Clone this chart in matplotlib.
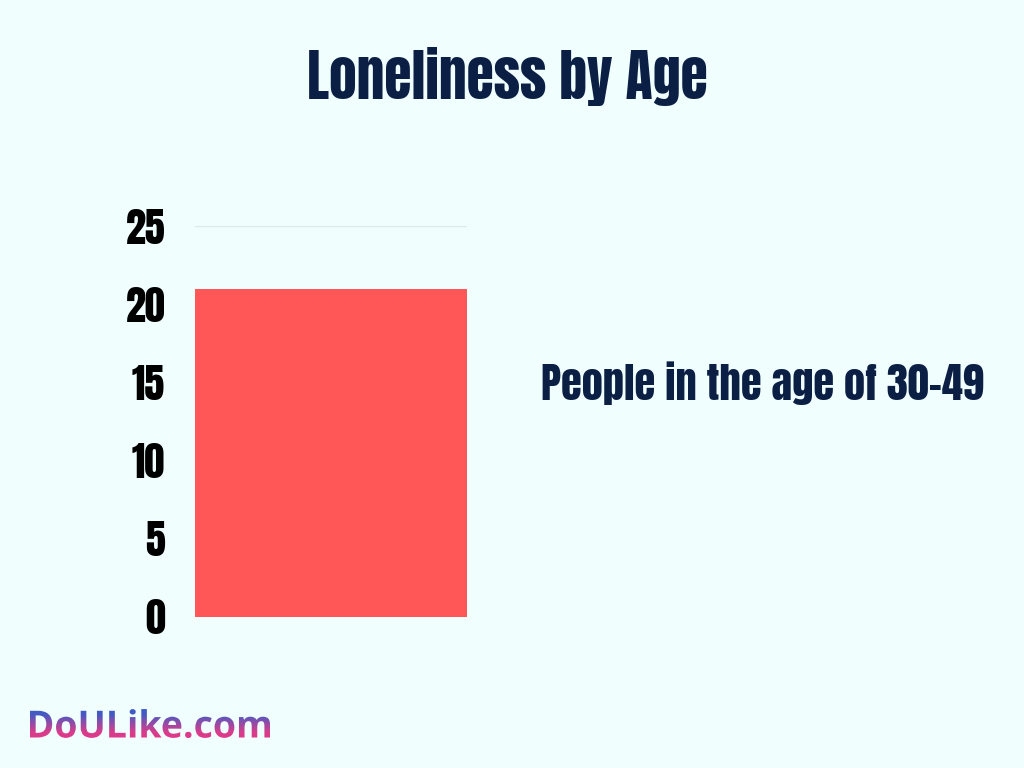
import matplotlib
matplotlib.use('Agg')
import matplotlib.pyplot as plt
import numpy as np
from matplotlib import font_manager
from matplotlib.textpath import TextPath
from matplotlib.font_manager import FontProperties
from matplotlib.patches import PathPatch
from matplotlib.transforms import Affine2D
from matplotlib.colors import LinearSegmentedColormap

categories = ['People in the age of 30-49']
values = [21]
yticks = [0, 5, 10, 15, 20, 25]

installed = set(f.name for f in font_manager.fontManager.ttflist)
cond = [n for n in ['Anton', 'Bebas Neue', 'Oswald', 'Liberation Sans Narrow'] if n in installed] + ['DejaVu Sans']
logo_font = [n for n in ['Open Sans', 'Noto Sans'] if n in installed] + ['DejaVu Sans']

bg = '#f0fefe'
navy = '#0b1f45'

fig = plt.figure(figsize=(10.24, 7.68), dpi=100, facecolor=bg)
ax = fig.add_axes([195 / 1024, 151 / 768, 272 / 1024, 391 / 768], facecolor=bg)

ax.bar([0], values, width=1.0, color='#ff5757', zorder=2)
ax.set_xlim(-0.5, 0.5)
ax.set_ylim(0, 25)
ax.set_yticks(yticks)
ax.set_yticklabels([str(t) for t in yticks], family=cond, fontsize=29, color='black')
ax.tick_params(axis='y', length=0, pad=21.5)
ax.set_xticks([])
ax.grid(axis='y', color='#dde9ea', linewidth=1, zorder=0)
for s in ax.spines.values():
    s.set_visible(False)

fig.text(507 / 1024, 1 - 77 / 768, 'Loneliness by Age', ha='center', va='center',
         family=cond, fontsize=40, color=navy)
fig.text(762 / 1024, 1 - 383 / 768, categories[0], ha='center', va='center',
         family=cond, fontsize=30.5, color=navy)

# gradient logo
lax = fig.add_axes([0, 0, 1, 1], facecolor='none')
lax.axis('off')
fp = FontProperties(family=logo_font, weight='bold')
tp = TextPath((0, 0), 'DoULike.com', prop=fp, size=1)
ext = tp.get_extents()
scale = 240 / ext.width
trans = Affine2D().translate(-ext.x0, -ext.y0).scale(scale).translate(30, 768 - 738)
patch = PathPatch(trans.transform_path(tp), facecolor='none', edgecolor='none', transform=lax.transData)
lax.add_patch(patch)
grad = np.linspace(0, 1, 64).reshape(-1, 1)
cmap = LinearSegmentedColormap.from_list('logo', [(0, '#e0388a'), (0.2, '#d83d8c'), (0.55, '#8a4eaa'),
                                                  (0.8, '#4a58c2'), (1, '#3a5cc8')])
h = ext.height * scale
im = lax.imshow(grad, cmap=cmap, aspect='auto', origin='lower',
                extent=[30, 270, 768 - 738, 768 - 738 + h])
im.set_clip_path(patch)
lax.set_xlim(0, 1024)
lax.set_ylim(0, 768)

fig.savefig('out.png', dpi=100, facecolor=bg)
